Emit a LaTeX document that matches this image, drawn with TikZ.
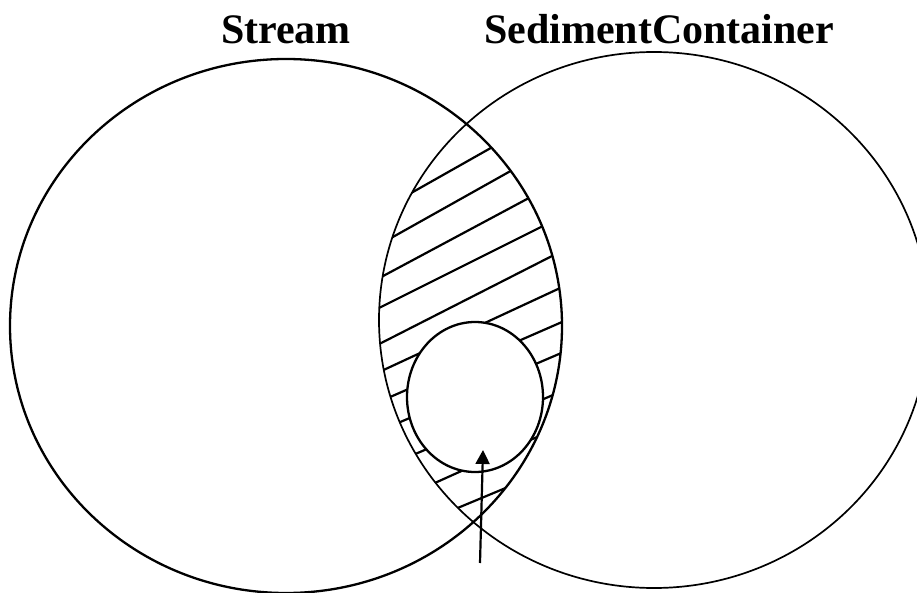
\documentclass[tikz,border=0pt]{standalone}
\usepackage{fontspec}
\setmainfont{Liberation Serif}
\usetikzlibrary{arrows.meta}
\begin{document}
\begin{tikzpicture}[x=1pt,y=-1pt,
  ring/.style={line width=2.3pt},
  thinring/.style={line width=1.7pt},
  hatchline/.style={line width=2.2pt, shorten <=-60pt, shorten >=-60pt},
  title/.style={font=\fontsize{42}{50}\selectfont\bfseries, anchor=base, inner sep=0pt},
  pointer/.style={line width=2.2pt, -{Triangle[length=14pt,width=14pt]}}]
\fill[white] (0,0) rectangle (917,593);
\useasboundingbox (0,0) rectangle (917,593);
\coordinate (cs) at (286,326);
\coordinate (cc) at (654,320);
\coordinate (ci) at (475,397);
\begin{scope}
  \clip (cs) ellipse [x radius=276pt, y radius=267pt];
  \clip (cc) ellipse [x radius=275pt, y radius=268pt];
  \draw[hatchline] (420,188) -- (489,149);
  \draw[hatchline] (400,233) -- (507,173);
  \draw[hatchline] (385,275) -- (527,199);
  \draw[hatchline] (383,306) -- (543,226);
  \draw[hatchline] (393,337) -- (552,256);
  \draw[hatchline] (390,367) -- (558,289);
  \draw[hatchline] (397,394) -- (562,322);
  \draw[hatchline] (405,420) -- (559,354);
  \draw[hatchline] (420,452) -- (553,395);
  \draw[hatchline] (437,482) -- (537,437);
  \draw[hatchline] (460,507) -- (508,487);
  \fill[white] (ci) ellipse [x radius=68pt, y radius=75pt];
\end{scope}
\draw[ring] (ci) ellipse [x radius=68pt, y radius=75pt];
\draw[ring] (cs) ellipse [x radius=276pt, y radius=267pt];
\draw[thinring] (cc) ellipse [x radius=275pt, y radius=268pt];
\node[title] (stream) at (286,44) {Stream};
\node[title] (sediment) at (659,44) {SedimentContainer};
\coordinate (tail) at (480,563);
\coordinate (tip) at (483,450);
\draw[pointer] (tail) -- (tip);
\end{tikzpicture}
\end{document}
